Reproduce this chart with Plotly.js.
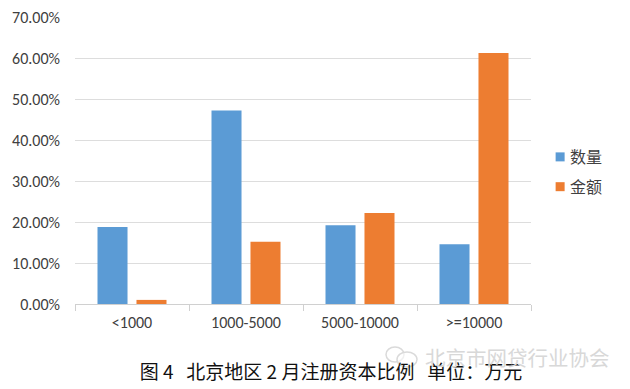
<!DOCTYPE html>
<html><head><meta charset="utf-8">
<script src="https://cdn.plot.ly/plotly-3.0.1.min.js"></script>
<style>html,body{margin:0;padding:0;background:#fff}</style></head>
<body><div id="chart" style="width:630px;height:389px"></div>
<script>
const categories = ['<1000', '1000-5000', '5000-10000', '>=10000'];
const countShare = [18.8, 47.2, 19.2, 14.6];
const amountShare = [1.0, 15.2, 22.2, 61.2];
const yTicks = [0, 10, 20, 30, 40, 50, 60, 70];
const yTickLabels = ['0.00%', '10.00%', '20.00%', '30.00%', '40.00%', '50.00%', '60.00%', '70.00%'];
const seriesNames = ['数量', '金额'];
const colors = ['#5B9BD5', '#ED7D31'];
const chartTitle = '图\u00A04\u00A0\u00A0\u00A0北京地区\u00A02\u00A0月注册资本比例\u00A0\u00A0\u00A0单位：万元';
const watermark = '北京市网贷行业协会';
const fontLatin = 'Carlito, "Open Sans", "Noto Sans CJK SC", sans-serif';
const fontCjk = '"Noto Sans CJK SC", sans-serif';

const traces = [countShare, amountShare].map((v, i) => ({
  type: 'bar', name: seriesNames[i], x: categories, y: v,
  marker: {color: colors[i]}, legendgroup: 'g' + i, hoverinfo: 'skip'
}));
const wmShape = {type: 'circle', xref: 'paper', yref: 'paper', line: {color: '#DADADA', width: 1.5}, fillcolor: 'rgba(255,255,255,0.6)'};
const px = v => (v - 75) / 456;
const py = v => (304 - v) / 287;
const layout = {
  width: 630, height: 389, paper_bgcolor: '#fff', plot_bgcolor: '#fff',
  margin: {l: 75, r: 99, t: 17, b: 85, autoexpand: false},
  barmode: 'group', bargap: 0.316, bargroupgap: 0.23,
  showlegend: true,
  font: {family: fontLatin, color: '#404040', size: 14},
  legend: {x: 1.02, xanchor: 'left', y: 0.46, yanchor: 'middle', traceorder: 'grouped', tracegroupgap: 6,
    font: {family: fontCjk, size: 16, color: '#404040'}, itemwidth: 30, bgcolor: 'rgba(0,0,0,0)'},
  xaxis: {type: 'category', tickfont: {size: 16, family: fontLatin, color: '#404040'},
    showline: true, linecolor: '#D0D0D0', linewidth: 1, showgrid: false, zeroline: false,
    ticks: 'outside', tickson: 'boundaries', ticklen: 6, tickcolor: '#D0D0D0', ticklabelstandoff: 4},
  yaxis: {range: [0, 70], tickmode: 'array', tickvals: yTicks, ticktext: yTickLabels,
    tickfont: {size: 16, family: fontLatin, color: '#404040'}, gridcolor: '#DDDDDD', gridwidth: 1, zeroline: false,
    showline: false, ticks: '', ticklabelstandoff: 14},
  title: {text: chartTitle, font: {family: fontCjk, size: 19, color: '#111'},
    x: 331/630, xanchor: 'center', y: 1 - 372/389, yanchor: 'middle'},
  shapes: [
    Object.assign({}, wmShape, {x0: px(386), x1: px(404), y0: py(362), y1: py(347)}),
    Object.assign({}, wmShape, {x0: px(397), x1: px(417), y0: py(367), y1: py(352)})
  ],
  annotations: [{xref: 'paper', yref: 'paper', x: px(612), y: py(357), xanchor: 'right', yanchor: 'middle',
    text: watermark, showarrow: false, font: {family: fontCjk, size: 20.5, color: '#D8D8D8'}}]
};
Plotly.newPlot('chart', traces, layout, {displayModeBar: false, staticPlot: true}).then(() => {
  // Excel-style legend: small square swatch sitting close to its label
  document.querySelectorAll('.legend .legendtext').forEach(t => t.setAttribute('x', '30'));
  document.querySelectorAll('.legend .legendpoints path').forEach(p => p.setAttribute('d', 'M4.5,4.5H-4.5V-4.5H4.5Z'));
});
</script></body></html>
